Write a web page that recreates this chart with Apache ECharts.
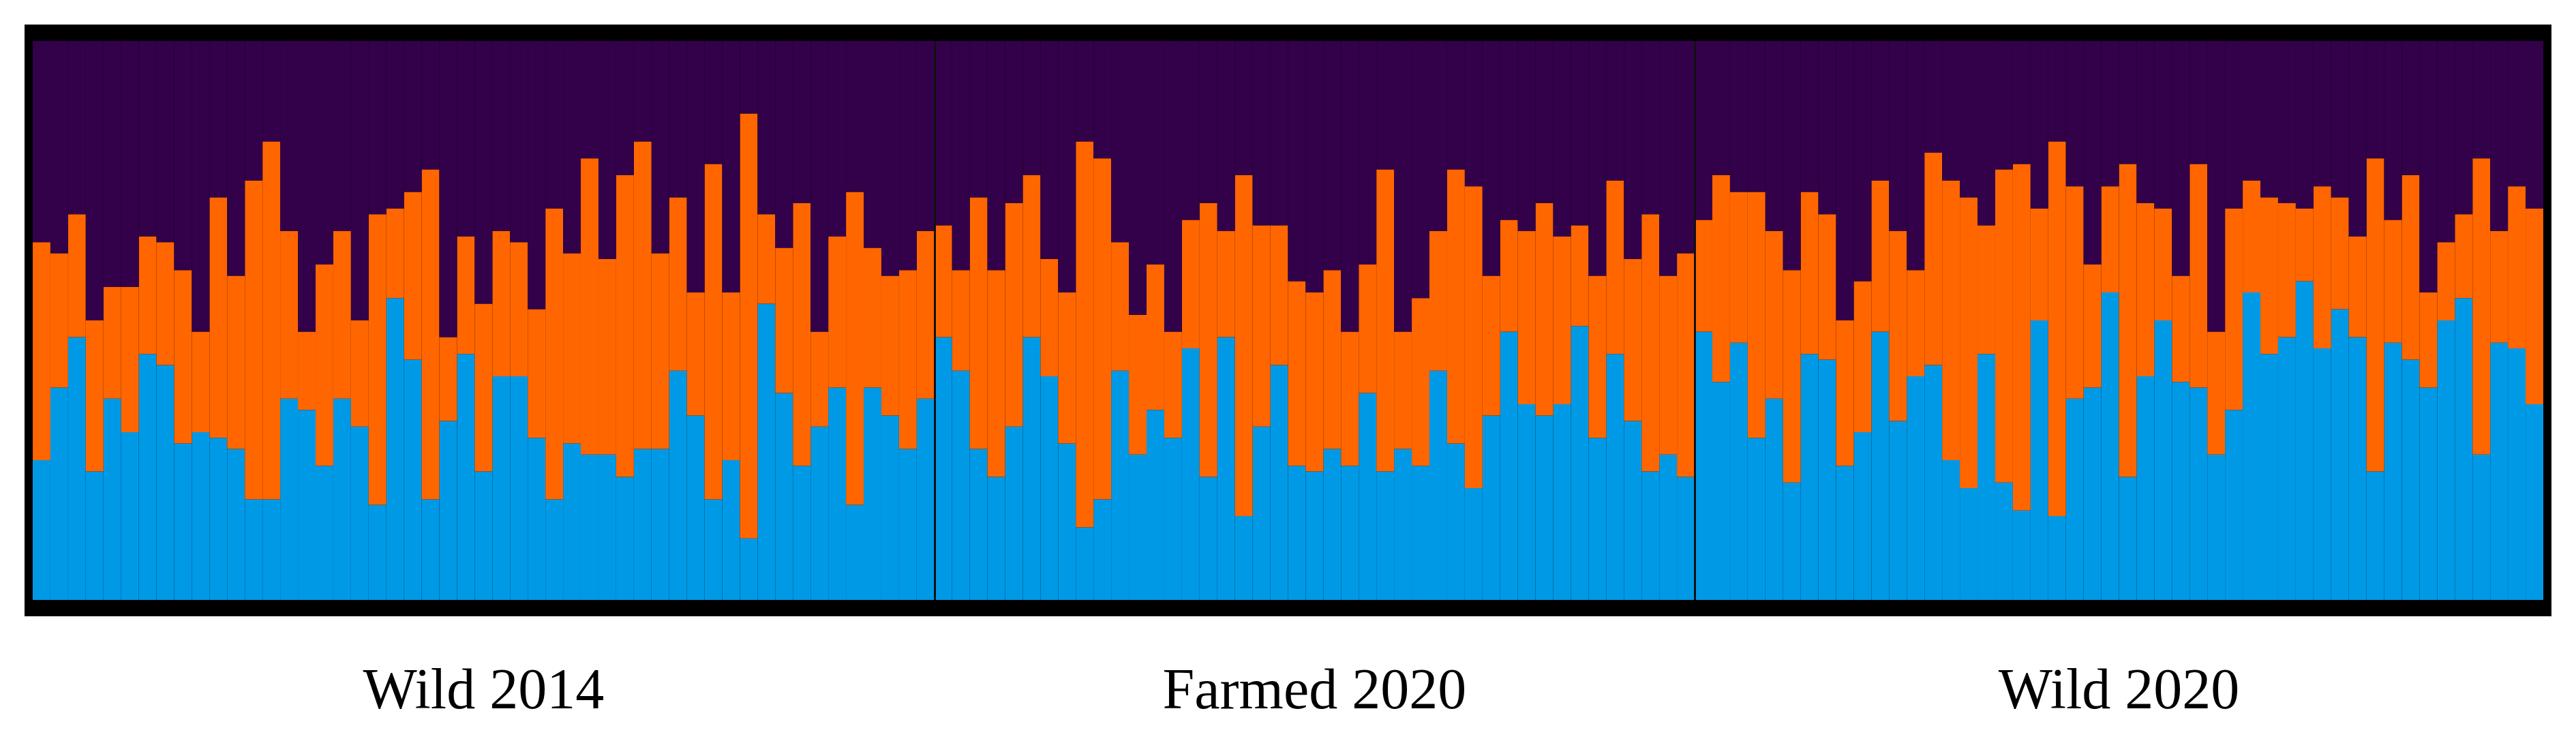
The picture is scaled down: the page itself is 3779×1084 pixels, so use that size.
<!DOCTYPE html>
<html><head><meta charset="utf-8">
<script src="https://cdn.jsdelivr.net/npm/echarts@6/dist/echarts.min.js"></script>
<style>html,body{margin:0;padding:0;background:#fff}#c{width:3779px;height:1084px}</style>
</head><body><div id="c"></div>
<script>
const groups = ['Wild 2014', 'Farmed 2020', 'Wild 2020'];
const groupSizes = [51, 43, 48];
const blue = [25,38,47,23,36,30,44,42,28,30,29,27,18,18,36,34,24,36,31,17,54,43,18,32,44,23,40,40,29,18,28,26,26,22,27,27,41,33,18,25,11,53,37,24,31,38,17,38,33,27,36,
47,41,27,22,31,47,40,28,13,18,41,26,34,29,45,22,47,15,31,42,24,23,27,24,37,23,27,24,41,28,20,33,48,35,33,35,49,29,44,32,23,26,22,
48,39,46,29,36,21,44,43,24,30,48,32,40,42,25,20,44,21,16,50,15,36,38,55,22,40,50,39,38,26,34,55,44,47,57,45,52,47,23,46,43,38,50,54,26,46,45,35];
const orange = [39,24,22,27,20,26,21,22,31,18,43,31,57,64,30,14,36,30,19,52,16,30,59,15,21,30,26,24,23,52,34,53,35,54,55,35,31,22,60,30,76,16,26,47,17,27,56,25,25,32,30,
20,18,45,37,40,29,21,27,69,61,23,25,26,19,23,49,19,61,36,25,33,32,32,24,23,54,21,30,25,49,54,25,20,31,38,30,18,29,31,29,46,32,40,
20,37,27,44,30,38,29,26,26,27,27,34,19,38,50,52,23,56,62,20,67,38,22,19,56,31,20,19,40,22,36,20,28,24,13,29,20,18,56,22,33,17,14,15,53,20,29,35];
const purple = blue.map((b, i) => 100 - b - orange[i]);
const cats = blue.map((_, i) => String(i + 1));
const bounds = [groupSizes[0], groupSizes[0] + groupSizes[1]];

const chart = echarts.init(document.getElementById('c'));
const G = {left: 48, right: 48, top: 60, bottom: 204};
const mk = (name, data, color) => ({name, type: 'bar', stack: 's', data, barCategoryGap: 0, barGap: 0,
  itemStyle: {color}, emphasis: {disabled: true}, animation: false});
chart.setOption({
  animation: false,
  graphic: [{type: 'rect', z: -10, shape: {x: 36, y: 36, width: 3707, height: 868}, style: {fill: '#000'}}],
  grid: G,
  xAxis: [
    {type: 'category', data: cats, show: false, boundaryGap: true},
    {type: 'value', min: 0, max: blue.length, show: false}
  ],
  yAxis: {type: 'value', min: 0, max: 100, show: false},
  series: [
    mk('K1', blue, '#0099E6'),
    mk('K2', orange, '#FF6600'),
    Object.assign(mk('K3', purple, '#33004A'), {}),
    {type: 'line', xAxisIndex: 1, data: [], silent: true,
     markLine: {symbol: 'none', silent: true, label: {show: false},
       lineStyle: {color: '#111', width: 3, type: 'solid'},
       data: bounds.map(b => ({xAxis: b}))}}
  ]
});
// group labels centred under each group
let start = 0;
const texts = groups.map((g, k) => {
  const mid = start + groupSizes[k] / 2; start += groupSizes[k];
  const px = chart.convertToPixel({xAxisIndex: 1}, mid);
  return {type: 'text', x: px, y: 1017, style: {text: g, font: '84px "Liberation Serif", "DejaVu Serif", serif', fill: '#000', textAlign: 'center', textVerticalAlign: 'middle'}};
});
chart.setOption({graphic: [{type: 'rect', z: -10, shape: {x: 36, y: 36, width: 3707, height: 868}, style: {fill: '#000'}}].concat(texts)});
</script></body></html>
